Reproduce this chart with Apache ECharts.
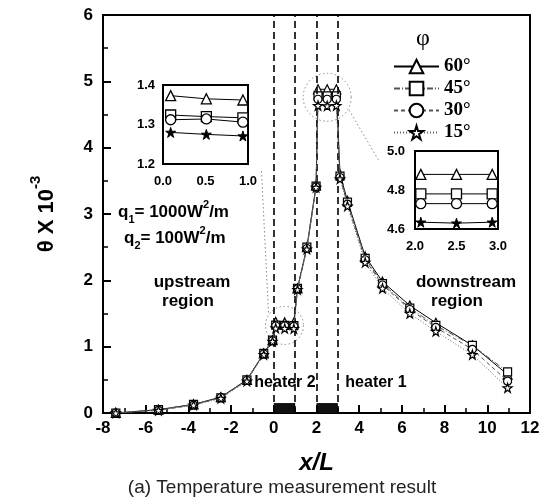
<!DOCTYPE html>
<html><head><meta charset="utf-8">
<script src="https://cdn.jsdelivr.net/npm/echarts@6/dist/echarts.min.js"></script>
<style>html,body{margin:0;padding:0;background:#fff}#c{width:548px;height:502px}</style>
</head><body><div id="c"></div>
<script>
// ---- data ----
const xPos = [-7.4, -5.4, -3.76, -2.48, -1.26, -0.47, -0.06, 0.09, 0.51, 0.94, 1.11, 1.55, 1.98, 2.07, 2.5, 2.93, 3.1, 3.45, 4.28, 5.09, 6.37, 7.59, 9.3, 10.95];
const theta60 = [0.0, 0.05, 0.13, 0.24, 0.5, 0.9, 1.1, 1.373, 1.365, 1.362, 1.88, 2.5, 3.43, 4.88, 4.88, 4.88, 3.6, 3.2, 2.36, 1.98, 1.62, 1.36, 1.02, 0.58];
const theta45 = [0.0, 0.05, 0.13, 0.23, 0.5, 0.9, 1.1, 1.324, 1.32, 1.317, 1.88, 2.5, 3.42, 4.78, 4.78, 4.78, 3.57, 3.18, 2.33, 1.95, 1.58, 1.32, 1.02, 0.62];
const theta30 = [0.0, 0.04, 0.12, 0.23, 0.49, 0.89, 1.09, 1.312, 1.314, 1.306, 1.87, 2.48, 3.41, 4.73, 4.73, 4.73, 3.55, 3.15, 2.31, 1.93, 1.56, 1.29, 0.96, 0.48];
const theta15 = [0.0, 0.04, 0.12, 0.22, 0.48, 0.88, 1.08, 1.28, 1.275, 1.271, 1.86, 2.47, 3.4, 4.635, 4.63, 4.635, 3.53, 3.12, 2.27, 1.88, 1.5, 1.23, 0.88, 0.38];
const seriesNames = ['60°', '45°', '30°', '15°'];
const heaterRanges = [[0, 1], [2, 3]];
const heaterLabels = ['heater 2', 'heater 1'];
const inset1Range = [0, 1];
const inset2Range = [2, 3];

// ---- styling ----
const FONT = 'Liberation Sans';
const STAR = 'path://M50,0 L61,35 L98,35 L68,57 L79,91 L50,70 L21,91 L32,57 L2,35 L39,35 Z';
const symbols = ['triangle', 'rect', 'circle', STAR];
const mainSizes = [9, 8, 8, 9];
const lineTypes = ['solid', [6, 2, 1, 2], [4, 3], [1, 2]];
const lineColors = ['#000', '#555', '#555', '#666'];
const allTheta = [theta60, theta45, theta30, theta15];

function pairs(vals, range) {
  const out = [];
  for (let i = 0; i < xPos.length; i++) {
    if (!range || (xPos[i] >= range[0] && xPos[i] <= range[1])) out.push([xPos[i], vals[i]]);
  }
  return out;
}

function valueAxis(gridIndex, pos, min, max, interval, opts) {
  opts = opts || {};
  return Object.assign({
    gridIndex: gridIndex, type: 'value', position: pos, min: min, max: max, interval: interval,
    axisLine: {show: true, onZero: false, lineStyle: {color: '#000', width: 2}},
    axisTick: {show: true, inside: true, length: opts.tickLen || 5, lineStyle: {color: '#000', width: 2}},
    minorTick: {show: true, splitNumber: 2, length: opts.minorLen || 3, lineStyle: {color: '#000', width: 1.5}},
    splitLine: {show: false},
    axisLabel: opts.noLabel ? {show: false} : {
      show: true, color: '#000', fontFamily: FONT, fontWeight: 'bold', fontSize: opts.fontSize || 13,
      margin: opts.margin || 6,
      formatter: opts.fmt || null
    }
  }, opts.extra || {});
}

const fmt1 = v => (Math.round(v * 10) / 10).toFixed(1);

const xAxes = [
  valueAxis(0, 'bottom', -8, 12, 2, {tickLen: 8, minorLen: 5, fontSize: 17, margin: 7, extra: {
    name: 'x/L', nameLocation: 'middle', nameGap: 38,
    nameTextStyle: {fontFamily: FONT, fontSize: 24, fontWeight: 'bold', fontStyle: 'italic', color: '#000'}
  }}),
  valueAxis(1, 'bottom', inset1Range[0], inset1Range[1], 0.5, {fmt: fmt1, margin: 11}),
  valueAxis(1, 'top', inset1Range[0], inset1Range[1], 0.5, {noLabel: true}),
  valueAxis(2, 'bottom', inset2Range[0], inset2Range[1], 0.5, {fmt: fmt1, margin: 11}),
  valueAxis(2, 'top', inset2Range[0], inset2Range[1], 0.5, {noLabel: true})
];
const yAxes = [
  valueAxis(0, 'left', 0, 6, 1, {tickLen: 8, minorLen: 5, fontSize: 17, margin: 10, extra: {
    name: '{t|θ X 10}{s|-3}', nameLocation: 'middle', nameGap: 45, nameRotate: 90,
    nameTextStyle: {rich: {
      t: {fontFamily: FONT, fontSize: 22, fontWeight: 'bold', color: '#000', verticalAlign: 'bottom', lineHeight: 30},
      s: {fontFamily: FONT, fontSize: 15, fontWeight: 'bold', color: '#000', verticalAlign: 'top', lineHeight: 30}
    }}
  }}),
  valueAxis(1, 'left', 1.2, 1.4, 0.1, {fmt: fmt1, margin: 8}),
  valueAxis(1, 'right', 1.2, 1.4, 0.1, {noLabel: true}),
  valueAxis(2, 'left', 4.6, 5.0, 0.2, {fmt: fmt1, margin: 10}),
  valueAxis(2, 'right', 4.6, 5.0, 0.2, {noLabel: true})
];

const series = [];
seriesNames.forEach((name, k) => {
  const s = {
    name: name, type: 'line', xAxisIndex: 0, yAxisIndex: 0,
    data: pairs(allTheta[k]),
    symbol: symbols[k], symbolSize: mainSizes[k], showSymbol: true,
    lineStyle: {color: lineColors[k], width: 1, type: lineTypes[k]},
    itemStyle: {color: '#fff', borderColor: '#000', borderWidth: 1.2},
    z: 3 + k, animation: false
  };
  if (k === 0) {
    s.markLine = {
      silent: true, symbol: 'none', label: {show: false}, animation: false,
      lineStyle: {color: '#000', type: [7, 4], width: 1.6},
      data: heaterRanges.flat().map(v => ({xAxis: v}))
    };
    s.markArea = {
      silent: true, animation: false,
      itemStyle: {color: '#111'},
      data: heaterRanges.map(r => [{xAxis: r[0], yAxis: 0}, {xAxis: r[1], yAxis: 0.15}])
    };
  }
  series.push(s);
});
[[1, inset1Range], [3, inset2Range]].forEach(([ax, range]) => {
  seriesNames.forEach((name, k) => {
    series.push({
      name: 'inset' + ax + name, type: 'line', xAxisIndex: ax, yAxisIndex: ax,
      data: pairs(allTheta[k], range),
      symbol: symbols[k], symbolSize: 10,
      lineStyle: {color: '#000', width: 1},
      itemStyle: k === 3 ? {color: '#000', borderColor: '#000', borderWidth: 1}
                         : {color: '#fff', borderColor: '#000', borderWidth: 1.3},
      animation: false, z: 5
    });
  });
});

const option = {
  animation: false,
  backgroundColor: '#fff',
  grid: [
    {left: 103, top: 15, right: 18, bottom: 89, show: true, borderColor: '#000', borderWidth: 2, backgroundColor: 'transparent'},
    {left: 163, top: 85, width: 85, height: 79, show: true, borderColor: '#000', borderWidth: 2, backgroundColor: '#fff', z: 4},
    {left: 415, top: 151, width: 83, height: 78, show: true, borderColor: '#000', borderWidth: 2, backgroundColor: '#fff', z: 4}
  ],
  xAxis: xAxes,
  yAxis: yAxes,
  legend: {
    data: seriesNames, orient: 'vertical', left: 388, top: 52,
    itemWidth: 45, itemHeight: 17, itemGap: 3, selectedMode: false,
    textStyle: {fontFamily: 'Liberation Serif', fontWeight: 'bold', fontSize: 19, color: '#000'}
  },
  series: series
};

const chart = echarts.init(document.getElementById('c'), null, {renderer: 'canvas'});
chart.setOption(option);

const c1 = chart.convertToPixel({gridIndex: 0}, [0.5, 1.32]);
const c2 = chart.convertToPixel({gridIndex: 0}, [2.5, 4.76]);

const bold = (size) => ({fontFamily: FONT, fontWeight: 'bold', fontSize: size, fill: '#000'});
const dotted = {stroke: '#888', lineWidth: 1, lineDash: [1.5, 2.5], fill: null};
const qRich = {
  b: Object.assign(bold(17), {lineHeight: 26, verticalAlign: 'middle'}),
  s: Object.assign(bold(11), {lineHeight: 26, verticalAlign: 'bottom'}),
  p: Object.assign(bold(11), {lineHeight: 26, verticalAlign: 'top'})
};

chart.setOption({graphic: [
  {type: 'circle', shape: {cx: c1[0], cy: c1[1], r: 19}, style: dotted, z: 1, silent: true},
  {type: 'circle', shape: {cx: c2[0], cy: c2[1], r: 24}, style: dotted, z: 1, silent: true},
  {type: 'line', shape: {x1: c1[0] - 16, y1: c1[1] - 13, x2: c1[0] - 23, y2: c1[1] - 155}, style: dotted, z: 1, silent: true},
  {type: 'line', shape: {x1: c2[0] + 22, y1: c2[1] + 13, x2: c2[0] + 52, y2: c2[1] + 64}, style: dotted, z: 1, silent: true},
  {type: 'text', x: 423, y: 39, style: {text: 'φ', fontFamily: 'Liberation Serif', fontSize: 24, fill: '#000', align: 'center', verticalAlign: 'middle'}, z: 10},
  {type: 'text', x: 118, y: 212, z: 10, style: {text: '{b|q}{s|1}{b|= 1000W}{p|2}{b|/m}', align: 'left', verticalAlign: 'middle', rich: qRich}},
  {type: 'text', x: 124, y: 238, z: 10, style: {text: '{b|q}{s|2}{b|= 100W}{p|2}{b|/m}', align: 'left', verticalAlign: 'middle', rich: qRich}},
  {type: 'text', x: 192, y: 282, z: 10, style: Object.assign(bold(17), {text: 'upstream', align: 'center', verticalAlign: 'middle'})},
  {type: 'text', x: 188, y: 301, z: 10, style: Object.assign(bold(17), {text: 'region', align: 'center', verticalAlign: 'middle'})},
  {type: 'text', x: 466, y: 282, z: 10, style: Object.assign(bold(17), {text: 'downstream', align: 'center', verticalAlign: 'middle'})},
  {type: 'text', x: 457, y: 301, z: 10, style: Object.assign(bold(17), {text: 'region', align: 'center', verticalAlign: 'middle'})},
  {type: 'text', x: 285, y: 383, z: 10, style: Object.assign(bold(16), {text: heaterLabels[0], align: 'center', verticalAlign: 'middle'})},
  {type: 'text', x: 376, y: 383, z: 10, style: Object.assign(bold(16), {text: heaterLabels[1], align: 'center', verticalAlign: 'middle'})},
  {type: 'text', x: 282, y: 488, z: 10, style: {text: '(a) Temperature measurement result', fontFamily: FONT, fontSize: 19, fill: '#222', align: 'center', verticalAlign: 'middle'}}
]});
</script>
</body></html>
